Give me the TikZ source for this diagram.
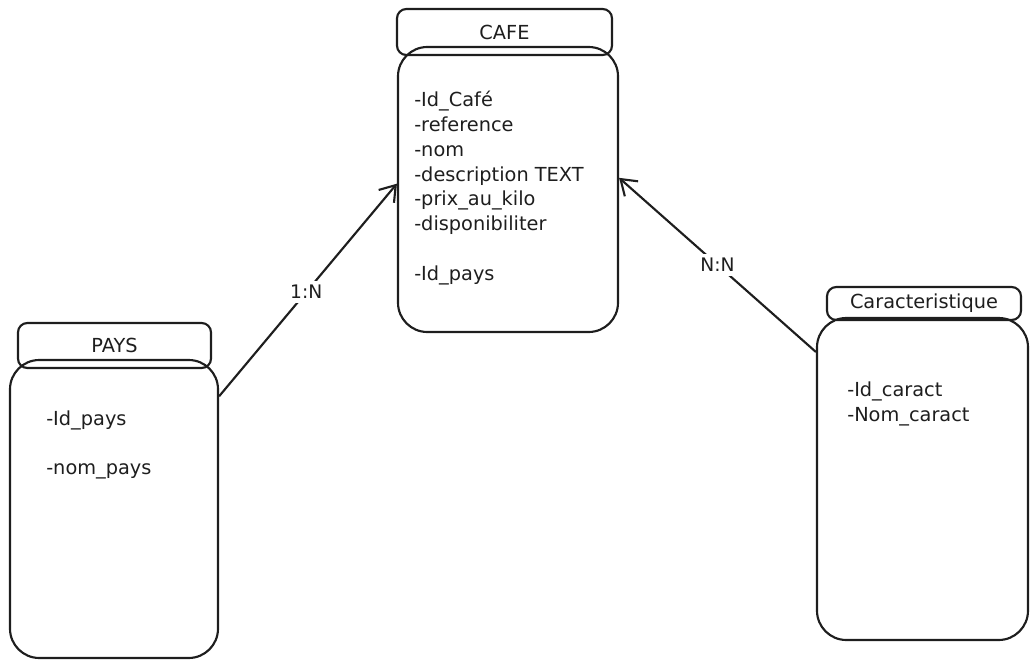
\documentclass[tikz,border=0pt]{standalone}
\usepackage{fontspec}
\setmainfont{DejaVu Sans}
\usetikzlibrary{arrows.meta}
\definecolor{inkc}{HTML}{1E1E1E}
\begin{document}
\begin{tikzpicture}[x=0.75pt,y=-0.75pt,
  ink/.style={draw=inkc, line width=1.6pt},
  hdr/.style={ink, rounded corners=7pt, inner sep=0pt, text=inkc, font=\fontsize{14.5}{17}\selectfont},
  bodybox/.style={ink, rounded corners=22pt, inner sep=0pt},
  attr/.style={anchor=base west, inner sep=0pt, font=\fontsize{14.5}{17}\selectfont, text=inkc},
  rel/.style={ink, -{Straight Barb[length=11pt,width=15pt,line width=1.6pt]}},
  lbl/.style={fill=white, inner sep=3pt, font=\fontsize{14}{16}\selectfont, text=inkc}
]
\useasboundingbox (0,0) rectangle (1036,667);

% CAFE
\node[bodybox, minimum width=165pt, minimum height=213.75pt] (cafebody) at (508,189.5) {};
\node[hdr, minimum width=161.25pt, minimum height=34.5pt] (cafehdr) at (504.5,32) {CAFE};
\node[attr] (c1) at (414,107) {-Id\_Café};
\node[attr] (c2) at (414,131.7) {-reference};
\node[attr] (c3) at (414,156.4) {-nom};
\node[attr] (c4) at (414,181.1) {-description TEXT};
\node[attr] (c5) at (414,205.8) {-prix\_au\_kilo};
\node[attr] (c6) at (414,230.5) {-disponibiliter};
\node[attr] (c7) at (414,280) {-Id\_pays};

% PAYS
\node[bodybox, minimum width=156pt, minimum height=223.5pt] (paysbody) at (114,509) {};
\node[hdr, minimum width=144.75pt, minimum height=33.75pt] (payshdr) at (114.5,345.5) {PAYS};
\node[attr] (p1) at (46,425) {-Id\_pays};
\node[attr] (p2) at (46,474) {-nom\_pays};

% Caracteristique
\node[bodybox, minimum width=158.25pt, minimum height=241.5pt] (carbody) at (922.5,479) {};
\node[hdr, minimum width=145.5pt, minimum height=24.75pt] (carhdr) at (924,303.5) {Caracteristique};
\node[attr] (k1) at (847,396) {-Id\_caract};
\node[attr] (k2) at (847,421) {-Nom\_caract};

% relations
\draw[rel] (paysbody.47) -- node[lbl, pos=0.49] (r1) {1:N} (cafebody.177.6);
\draw[rel] (carbody.130.9) -- node[lbl, pos=0.5] (r2) {N:N} (cafebody.6.5);
\end{tikzpicture}
\end{document}
